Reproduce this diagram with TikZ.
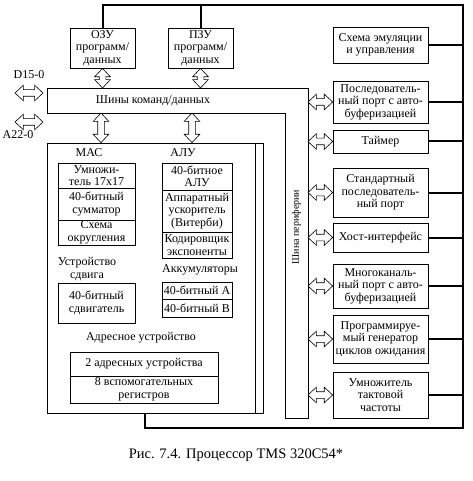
\documentclass[tikz,border=0pt]{standalone}
\usepackage{fontspec}
\setmainfont{Liberation Serif}
\usetikzlibrary{positioning,arrows.meta,calc,shapes.arrows}

\begin{document}
\begin{tikzpicture}[x=1pt, y=-1pt,
  blk/.style={draw, line width=0.7pt, inner sep=0pt, align=center, font=\fontsize{12}{12.5}\selectfont},
  lbl/.style={inner sep=0pt, align=center, font=\fontsize{12}{12.5}\selectfont},
  darrow/.style={double arrow, draw, line width=0.6pt, fill=white, inner xsep=0pt, inner ysep=3pt,
    double arrow head extend=4.5pt, double arrow tip angle=86},
  busarrow/.style={to path={let \p1=($(\tikztotarget)-(\tikztostart)$), \n1={veclen(\x1,\y1)} in
    -- (\tikztotarget) node[midway, sloped, darrow, minimum width=#1, minimum height=\n1] {}}},
  busarrow/.default=15pt,
  ctrl/.style={line width=2pt}]
  \useasboundingbox (0,0) rectangle (472,481);
  % memories
  \node[blk, minimum width=65, minimum height=40] (ozu) at (102.5,48) {ОЗУ\\программ/\\данных};
  \node[blk, minimum width=65, minimum height=40] (pzu) at (200.5,48) {ПЗУ\\программ/\\данных};
  % peripherals
  \node[blk, minimum width=95, minimum height=36] (emu)     at (380.5,45)    {Схема эмуляции\\и управления};
  \node[blk, minimum width=95, minimum height=42] (sport)   at (380.5,102)   {Последователь-\\ный порт с авто-\\буферизацией};
  \node[blk, minimum width=95, minimum height=23] (timer)   at (380.5,141.5) {Таймер};
  \node[blk, minimum width=95, minimum height=49] (stdport) at (380.5,192.5) {Стандартный\\последователь-\\ный порт};
  \node[blk, minimum width=95, minimum height=29] (host)    at (380.5,237.5) {Хост-интерфейс};
  \node[blk, minimum width=95, minimum height=44] (mport)   at (380.5,286)   {Многоканаль-\\ный порт с авто-\\буферизацией};
  \node[blk, minimum width=95, minimum height=48] (waitgen) at (380.5,339)   {Программируе-\\мый генератор\\циклов ожидания};
  \node[blk, minimum width=95, minimum height=46] (clkmul)  at (380.5,395)   {Умножитель\\тактовой\\частоты};
  % core
  \node[draw, line width=0.7pt, minimum width=216, minimum height=270] (core) at (155,278) {};
  \draw[line width=0.7pt] (255,143) -- (255,413);
  \node[lbl] (maclbl) at (89,153) {МАС};
  \node[lbl] (alulbl) at (183,153) {АЛУ};
  \node[blk, minimum width=77, minimum height=25] (mul)     at (96.5,175.5) {Умножи-\\тель 17x17};
  \node[blk, minimum width=77, minimum height=32] (adder)   at (96.5,204)   {40-битный\\сумматор};
  \node[blk, minimum width=77, minimum height=25] (round)   at (96.5,232.5) {Схема\\округления};
  \node[lbl] (shiftlbl) at (87,269) {Устройство\\сдвига};
  \node[blk, minimum width=77, minimum height=40] (shifter) at (96.5,303)   {40-битный\\сдвигатель};
  \node[blk, minimum width=70, minimum height=27] (alu)     at (197,176.5)  {40-битное\\АЛУ};
  \node[blk, minimum width=70, minimum height=42] (viterbi) at (197,211)    {Аппаратный\\ускоритель\\(Витерби)};
  \node[blk, minimum width=70, minimum height=26] (expenc)  at (197,245)    {Кодировщик\\экспоненты};
  \node[lbl] (acclbl) at (200,270) {Аккумуляторы};
  \node[blk, minimum width=70, minimum height=17] (acca)    at (197,290.5)  {40-битный А};
  \node[blk, minimum width=70, minimum height=18] (accb)    at (197,308)    {40-битный В};
  \node[lbl] (addrlbl) at (141,338) {Адресное устройство};
  \node[blk, minimum width=148, minimum height=24] (addr)   at (144,364)    {2 адресных устройства};
  \node[blk, minimum width=148, minimum height=27] (aux)    at (144,389.5)  {8 вспомогательных\\регистров};
  % buses
  \draw[line width=0.7pt] (47,88) -- (308,88) -- (308,418) -- (285,418) -- (285,113) -- (47,113) -- cycle;
  \node[lbl] (cmdbus) at (153,100.5) {Шины команд/данных};
  \node[lbl, rotate=90, font=\fontsize{10}{10}\selectfont] (perbus) at (296.5,227) {Шина периферии};
  \coordinate (bustop) at (0,88);
  \coordinate (perx) at (308,0);
  \coordinate (bb1) at (101,113);
  \coordinate (bb2) at (192,113);
  \path (ozu.south) to[busarrow=12pt] (ozu.south |- bustop);
  \path (pzu.south) to[busarrow=12pt] (pzu.south |- bustop);
  \path (bb1) to[busarrow=12pt] (bb1 |- core.north);
  \path (bb2) to[busarrow=12pt] (bb2 |- core.north);
  \foreach \bx in {sport,timer,stdport,host,mport,waitgen,clkmul}
    \path (\bx.west -| perx) to[busarrow] (\bx.west);
  % external buses
  \node[lbl] (dlbl) at (29,75) {D15-0};
  \node[lbl] (albl) at (18,135) {A22-0};
  \coordinate (d0) at (15,93);
  \coordinate (d1) at (43,93);
  \coordinate (a0) at (15,122);
  \coordinate (a1) at (43,122);
  \path (d0) to[busarrow=12pt] (d1);
  \path (a0) to[busarrow=12pt] (a1);
  % control lines
  \coordinate (tr) at (463,5);
  \coordinate (br) at (463,428);
  \coordinate (cs) at (145,413);
  \draw[ctrl] (ozu.north) |- (tr) -- (br) -| (cs);
  \draw[ctrl] (pzu.north) -- (pzu.north |- tr);
  \foreach \bx in {emu,sport,timer,stdport,host,mport,waitgen,clkmul}
    \draw[ctrl] (\bx.east) -- (\bx.east -| tr);
  % caption
  \node[lbl, font=\fontsize{14.5}{16}\selectfont] (caption) at (236,455) {Рис. 7.4. Процессор TMS 320C54*};
\end{tikzpicture}
\end{document}
